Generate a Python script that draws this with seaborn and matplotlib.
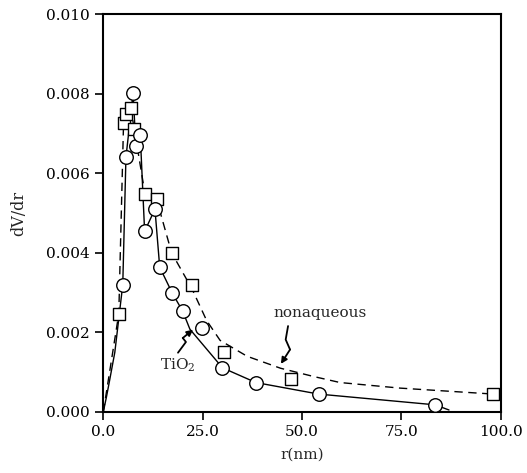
import matplotlib
matplotlib.use("Agg")
import matplotlib.pyplot as plt
import seaborn as sns
import numpy as np
import pandas as pd

# measured points (circles = TiO2, squares = nonaqueous)
tio2_r = [4.9, 5.7, 7.5, 8.2, 9.3, 10.4, 13.0, 14.2, 17.3, 20.0, 24.8, 30.0, 38.4, 54.2, 83.5]
tio2_v = [0.0032, 0.0064, 0.00802, 0.00668, 0.00697, 0.00454, 0.0051, 0.00364, 0.0030,
          0.00253, 0.00212, 0.00111, 0.00074, 0.00045, 0.00018]

nonaq_r = [3.9, 5.1, 5.8, 6.9, 7.8, 10.5, 13.4, 17.2, 22.3, 30.5, 47.2, 98.2]
nonaq_v = [0.00247, 0.00727, 0.00749, 0.00764, 0.00711, 0.00548, 0.00535, 0.0040,
           0.0032, 0.00152, 0.00082, 0.00045]

# drawn curves
tio2_curve_r = [0, 0.8, 1.6, 2.9, 4.9, 5.7, 7.5, 8.2, 9.3, 10.4, 13.0, 14.2, 17.3, 20.0,
                21.8, 30.0, 38.4, 54.2, 83.5, 87.0]
tio2_curve_v = [0, 0.00038, 0.0008, 0.0015, 0.0032, 0.0064, 0.00802, 0.00668, 0.00697,
                0.00454, 0.0051, 0.00364, 0.0030, 0.00253, 0.00208, 0.00111, 0.00074,
                0.00045, 0.00018, 0.00005]

nonaq_curve_r = [0, 3.9, 5.1, 5.8, 6.9, 7.8, 10.5, 13.4, 17.2, 22.3, 26.0, 29.4, 36.2,
                 44.6, 53.0, 59.6, 74.7, 98.2]
nonaq_curve_v = [0, 0.00247, 0.00727, 0.00749, 0.00764, 0.00711, 0.00548, 0.00535, 0.0040,
                 0.0031, 0.0023, 0.0018, 0.0014, 0.0011, 0.00089, 0.00074, 0.0006, 0.00045]

sns.set_style("ticks")
plt.rcParams['font.family'] = ['DejaVu Serif']
plt.rcParams['mathtext.fontset'] = 'dejavuserif'

fig = plt.figure(figsize=(5.27, 4.73), dpi=100)
ax = fig.add_axes([0.196, 0.129, 0.754, 0.841])

sns.lineplot(x=tio2_curve_r, y=tio2_curve_v, sort=False, color='black', lw=1.0, ax=ax)
sns.lineplot(x=nonaq_curve_r, y=nonaq_curve_v, sort=False, color='black', lw=1.0,
             ax=ax, linestyle=(0, (6, 4)))
sns.scatterplot(x=nonaq_r, y=nonaq_v, marker='s', s=70, facecolor='white',
                edgecolor='black', linewidth=1.0, ax=ax, zorder=3)
sns.scatterplot(x=tio2_r, y=tio2_v, marker='o', s=95, facecolor='white',
                edgecolor='black', linewidth=1.0, ax=ax, zorder=4)

ax.set_xlim(0, 100)
ax.set_ylim(0, 0.010)
ax.set_xticks([0, 25, 50, 75, 100])
ax.set_xticklabels(['0.0', '25.0', '50.0', '75.0', '100.0'])
ax.set_yticks([0, 0.002, 0.004, 0.006, 0.008, 0.010])
ax.set_yticklabels(['0.000', '0.002', '0.004', '0.006', '0.008', '0.010'])
ax.tick_params(direction='out', length=6, width=1.2, labelsize=11, colors='black')
for sp in ax.spines.values():
    sp.set_linewidth(1.5)
    sp.set_color('black')

ax.set_xlabel('r(nm)', fontsize=11, labelpad=6)
ax.set_ylabel('dV/dr', fontsize=11.5, labelpad=14)

ax.text(18.8, 0.00118, 'TiO$_2$', fontsize=11, ha='center', va='center')
ax.text(54.6, 0.0025, 'nonaqueous', fontsize=11, ha='center', va='center')

# squiggly pointer for TiO2
ax.plot([18.8, 20.8, 20.0], [0.00149, 0.00176, 0.00186], color='black', lw=1.3)
ax.annotate('', xy=(22.6, 0.00207), xytext=(20.0, 0.00186),
            arrowprops=dict(arrowstyle='-|>', color='black', lw=1.3, mutation_scale=9,
                            shrinkA=0, shrinkB=0))
# squiggly pointer for nonaqueous
ax.plot([46.5, 45.9, 47.0], [0.00216, 0.00182, 0.00157], color='black', lw=1.3)
ax.annotate('', xy=(44.7, 0.00121), xytext=(47.0, 0.00157),
            arrowprops=dict(arrowstyle='-|>', color='black', lw=1.3, mutation_scale=9,
                            shrinkA=0, shrinkB=0))

fig.savefig('out.png', dpi=100)
